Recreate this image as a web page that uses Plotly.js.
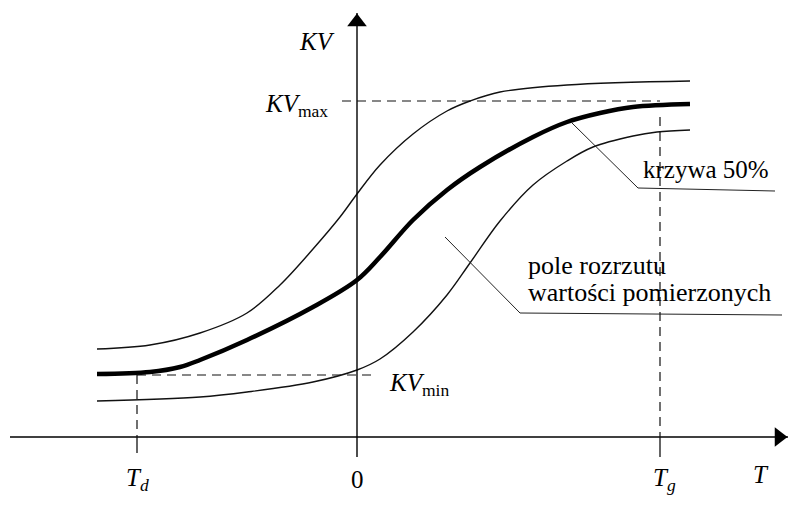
<!DOCTYPE html>
<html>
<head>
<meta charset="utf-8">
<script src="https://cdn.plot.ly/plotly-3.0.1.min.js"></script>
<style>html,body{margin:0;padding:0;background:#fff}#chart{width:800px;height:515px}</style>
</head>
<body>
<div id="chart"></div>
<script>
// Schematic values (T axis: 0 at KV axis; KV axis: 0 at T axis)
var tUpper  = [-2.60,-2.07,-1.57,-1.10,-0.77,-0.44,-0.17,0.00,0.23,0.56,0.90,1.13,1.43,2.10,3.33];
var kvUpper = [ 0.88, 0.92, 1.04, 1.24, 1.52, 1.88, 2.20,2.43,2.72,3.03,3.26,3.36,3.45,3.52,3.56];
var tMid    = [-2.60,-2.07,-1.77,-1.57,-1.10,-0.44,0.00,0.23,0.56,0.90,1.23,1.76,2.10,2.43,2.76,3.33];
var kvMid   = [ 0.63, 0.65, 0.70, 0.77, 0.97, 1.30,1.57,1.80,2.17,2.47,2.70,3.00,3.15,3.24,3.30,3.33];
var tLower  = [-2.60,-1.57,-1.10,-0.44,0.00,0.23,0.56,0.90,1.13,1.43,1.76,2.10,2.36,2.76,3.00,3.33];
var kvLower = [ 0.36, 0.40, 0.45, 0.55,0.67,0.78,1.05,1.42,1.74,2.16,2.52,2.76,2.90,3.01,3.05,3.07];

var Td = -2.20, Tg = 3.03, KVmin = 0.62, KVmax = 3.36;
var tickLabels = ['<i>T</i><sub><i>d</i></sub>', '0', '<i>T</i><sub><i>g</i></sub>'];
var tickPos = [Td, 0, Tg];
var labelKV = '<i>KV</i>', labelKVmax = '<i>KV</i><sub>max</sub>', labelKVmin = '<i>KV</i><sub>min</sub>', labelT = '<i>T</i>';
var label50 = 'krzywa 50%';
var labelPole = ['pole rozrzutu', 'wartości pomierzonych'];
var leader50x = [2.15, 2.81, 4.18], leader50y = [3.14, 2.49, 2.46];
var leaderPx = [0.88, 1.63, 4.25], leaderPy = [2.00, 1.24, 1.22];
var xAxisEnds = [-3.47, 4.31], yAxisEnds = [-0.20, 4.24];

var F = 'Liberation Serif';
var traces = [
  {x: tUpper, y: kvUpper, mode: 'lines', line: {color: '#111', width: 1.4, shape: 'spline'}, hoverinfo: 'skip'},
  {x: tLower, y: kvLower, mode: 'lines', line: {color: '#111', width: 1.4, shape: 'spline'}, hoverinfo: 'skip'},
  {x: tMid, y: kvMid, mode: 'lines', line: {color: '#000', width: 4.5, shape: 'spline'}, hoverinfo: 'skip'},
  {x: leader50x, y: leader50y, mode: 'lines', line: {color: '#222', width: 1}, hoverinfo: 'skip'},
  {x: leaderPx, y: leaderPy, mode: 'lines', line: {color: '#222', width: 1}, hoverinfo: 'skip'},
  // axes
  {x: xAxisEnds, y: [0, 0], mode: 'lines', line: {color: '#000', width: 1.4}, hoverinfo: 'skip'},
  {x: [0, 0], y: yAxisEnds, mode: 'lines', line: {color: '#000', width: 1.4}, hoverinfo: 'skip'},
  // arrowheads
  {x: [xAxisEnds[1] - 0.09], y: [0], mode: 'markers', marker: {symbol: 'triangle-right', size: 17, color: '#000', line: {width: 0}}, hoverinfo: 'skip'},
  {x: [0], y: [yAxisEnds[1] - 0.09], mode: 'markers', marker: {symbol: 'triangle-up', size: 17, color: '#000', line: {width: 0}}, hoverinfo: 'skip'}
];

var dash = {color: '#111', width: 1.2, dash: '9px,6px'};
var solid = {color: '#111', width: 1.3};
var shapes = [
  {type: 'line', xref: 'x', yref: 'y', x0: -0.15, x1: Tg, y0: KVmax, y1: KVmax, line: dash},
  {type: 'line', xref: 'x', yref: 'y', x0: Td, x1: 0.15, y0: KVmin, y1: KVmin, line: dash},
  {type: 'line', xref: 'x', yref: 'y', x0: Td, x1: Td, y0: KVmin, y1: 0, line: dash},
  {type: 'line', xref: 'x', yref: 'y', x0: Tg, x1: Tg, y0: 3.20, y1: 0, line: dash},
  {type: 'line', xref: 'x', yref: 'y', x0: Td, x1: Td, y0: 0, y1: -0.16, line: solid},
  {type: 'line', xref: 'x', yref: 'y', x0: Tg, x1: Tg, y0: 0, y1: -0.20, line: solid}
];

var annotations = [
  {x: -0.40, y: 3.96, text: labelKV, showarrow: false, font: {family: F, size: 25, color: '#000'}},
  {x: -0.27, y: 3.32, xanchor: 'right', text: labelKVmax, showarrow: false, font: {family: F, size: 25, color: '#000'}},
  {x: 0.30, y: 0.53, xanchor: 'left', text: labelKVmin, showarrow: false, font: {family: F, size: 25, color: '#000'}},
  {x: 4.04, y: -0.37, text: labelT, showarrow: false, font: {family: F, size: 25, color: '#000'}},
  {x: 2.84, y: 2.68, xanchor: 'left', text: label50, showarrow: false, font: {family: F, size: 25, color: '#000'}},
  {x: 1.69, y: 1.72, xanchor: 'left', text: labelPole[0], showarrow: false, font: {family: F, size: 26, color: '#000'}},
  {x: 1.69, y: 1.45, xanchor: 'left', text: labelPole[1], showarrow: false, font: {family: F, size: 26, color: '#000'}}
];
for (var i = 0; i < tickPos.length; i++) {
  annotations.push({x: tickPos[i] + (i === 2 ? 0.04 : 0), y: -0.42, text: tickLabels[i], showarrow: false, font: {family: F, size: 25, color: '#000'}});
}

var layout = {
  width: 800, height: 515,
  margin: {l: 0, r: 0, t: 0, b: 0},
  paper_bgcolor: '#fff', plot_bgcolor: '#fff',
  showlegend: false,
  font: {family: F},
  xaxis: {range: [-3.57, 4.43], visible: false, fixedrange: true},
  yaxis: {range: [-0.78, 4.37], visible: false, fixedrange: true},
  shapes: shapes,
  annotations: annotations
};
Plotly.newPlot('chart', traces, layout, {displayModeBar: false, staticPlot: true});
</script>
</body>
</html>
